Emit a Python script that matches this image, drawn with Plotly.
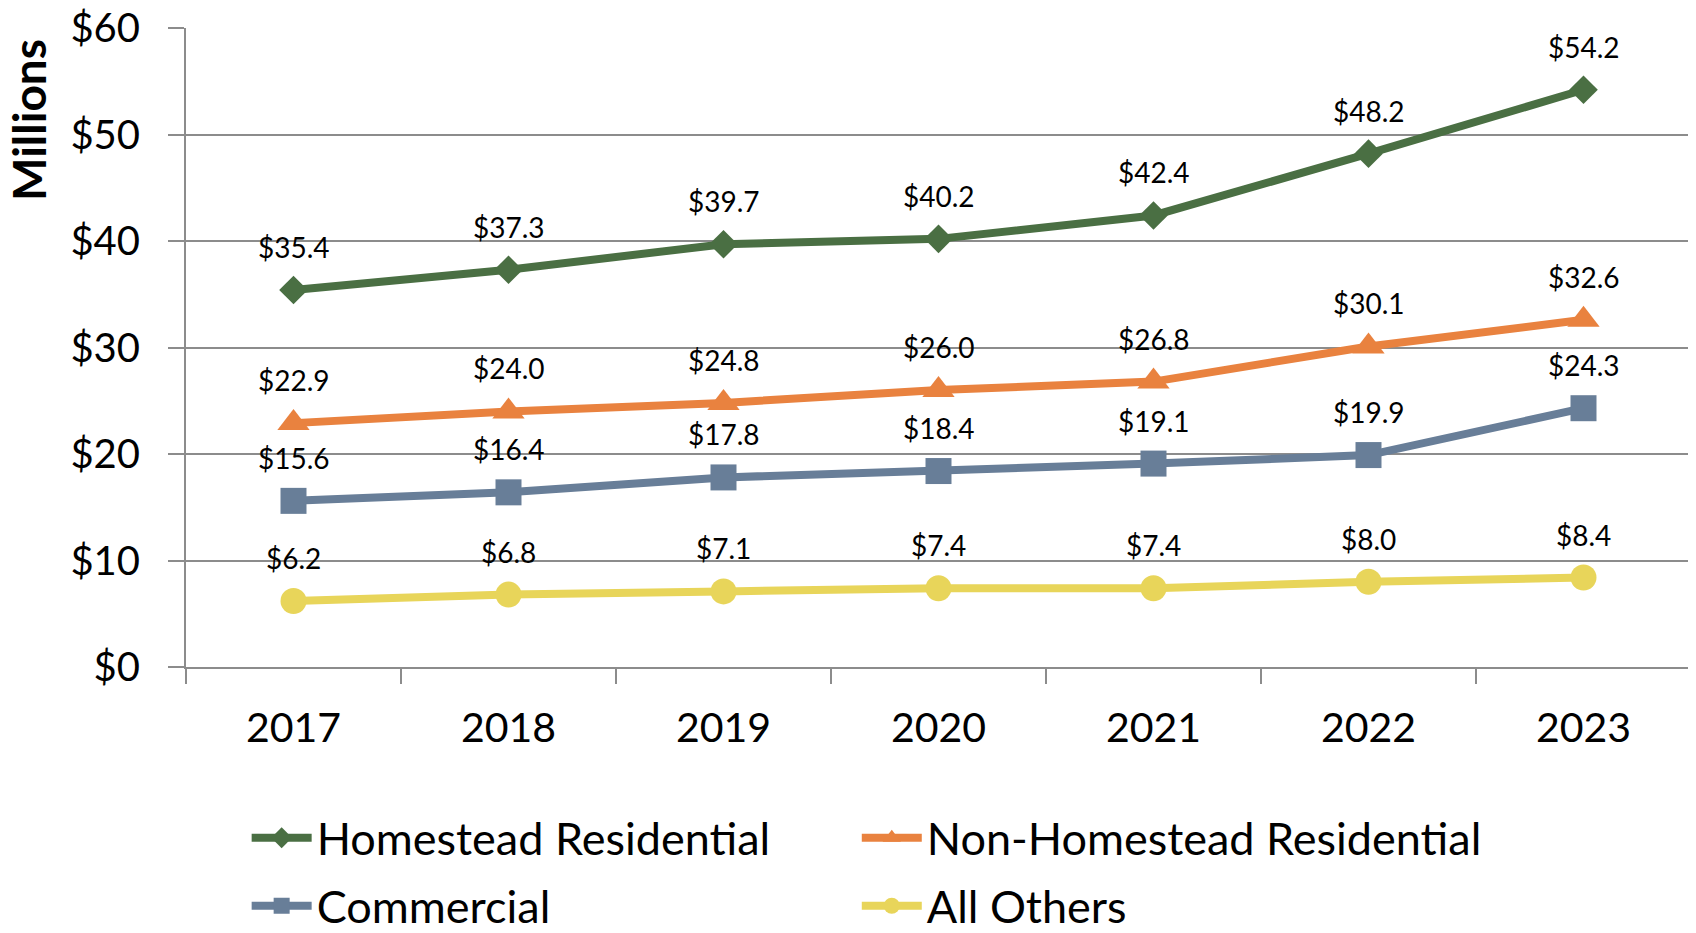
import plotly.graph_objects as go

years = ["2017", "2018", "2019", "2020", "2021", "2022", "2023"]
homestead = [35.4, 37.3, 39.7, 40.2, 42.4, 48.2, 54.2]
non_homestead = [22.9, 24.0, 24.8, 26.0, 26.8, 30.1, 32.6]
commercial = [15.6, 16.4, 17.8, 18.4, 19.1, 19.9, 24.3]
all_others = [6.2, 6.8, 7.1, 7.4, 7.4, 8.0, 8.4]

y_tick_vals = [0, 10, 20, 30, 40, 50, 60]
y_tick_text = ["$0", "$10", "$20", "$30", "$40", "$50", "$60"]

series = [
    ("Homestead Residential", homestead, "#4A6F43", "diamond", 22, "legend"),
    ("Non-Homestead Residential", non_homestead, "#E9823F", "triangle-up", 28, "legend2"),
    ("Commercial", commercial, "#687E98", "square", 26, "legend3"),
    ("All Others", all_others, "#E8D55A", "circle", 26, "legend4"),
]

FONT = "Lato, 'Open Sans', sans-serif"

fig = go.Figure()
annotations = []
for name, vals, color, sym, size, leg in series:
    fig.add_trace(go.Scatter(
        x=years, y=vals, name=name, mode="lines+markers",
        line=dict(color=color, width=8),
        marker=dict(symbol=sym, size=size, color=color),
        legend=leg,
    ))
    for i, v in enumerate(vals):
        annotations.append(dict(
            x=i, y=v, xref="x", yref="y", text=f"${v:.1f}",
            showarrow=False, yshift=43,
            font=dict(family=FONT, size=28, color="#000000"),
        ))

annotations.append(dict(
    x=-0.105, y=0.856, xref="paper", yref="paper", text="<b>Millions</b>",
    textangle=-90, showarrow=False, xanchor="center", yanchor="middle",
    font=dict(family=FONT, size=46, color="#000000"),
))

legend_common = dict(
    orientation="h", xanchor="left", yanchor="middle",
    font=dict(family=FONT, size=45, color="#000000"),
    itemwidth=60, bgcolor="rgba(0,0,0,0)",
)

fig.update_layout(
    width=1696, height=933,
    margin=dict(l=178, r=13, t=20, b=274, autoexpand=False),
    paper_bgcolor="white", plot_bgcolor="white",
    font=dict(family=FONT, color="#000000"),
    annotations=annotations,
    showlegend=True,
    legend=dict(x=0.0403, y=-0.2676, **legend_common),
    legend2=dict(x=0.4457, y=-0.2676, **legend_common),
    legend3=dict(x=0.0403, y=-0.3740, **legend_common),
    legend4=dict(x=0.4457, y=-0.3740, **legend_common),
)

fig.update_xaxes(
    type="category", range=[-0.5, 6.5], automargin=False,
    showgrid=False, showline=True, linecolor="#8C8C8C", linewidth=2,
    ticks="outside", tickson="boundaries", ticklen=15, tickwidth=2, tickcolor="#8C8C8C",
    tickfont=dict(family=FONT, size=41, color="#000000"),
    ticklabelstandoff=24, ticklabeloverflow="allow",
    zeroline=False,
)
fig.update_yaxes(
    range=[0, 60], tickvals=y_tick_vals, ticktext=y_tick_text, automargin=False,
    showgrid=True, gridcolor="#8C8C8C", gridwidth=2,
    showline=True, linecolor="#8C8C8C", linewidth=2,
    ticks="outside", ticklen=16, tickwidth=2, tickcolor="#8C8C8C",
    tickfont=dict(family=FONT, size=40, color="#000000"),
    ticklabelstandoff=20, ticklabeloverflow="allow",
    zeroline=False,
)

fig.write_html("out.html")
